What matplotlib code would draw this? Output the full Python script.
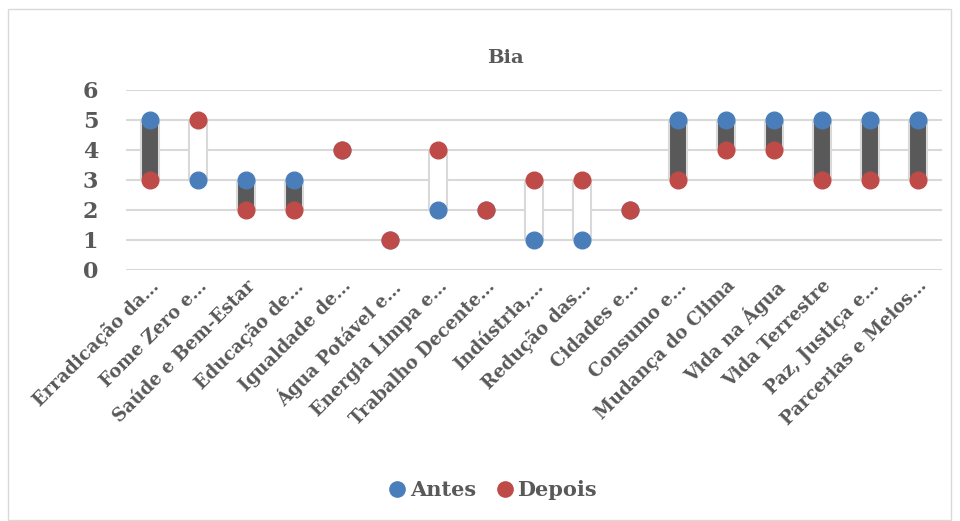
import matplotlib.pyplot as plt
import numpy as np
from matplotlib.lines import Line2D
from matplotlib.patches import Rectangle

# ODS categories and scores
categorias = ['Erradicação da…', 'Fome Zero e…', 'Saúde e Bem-Estar', 'Educação de…',
              'Igualdade de…', 'Água Potável e…', 'Energia Limpa e…', 'Trabalho Decente…',
              'Indústria,…', 'Redução das…', 'Cidades e…', 'Consumo e…',
              'Mudança do Clima', 'Vida na Água', 'Vida Terrestre', 'Paz, Justiça e…',
              'Parcerias e Meios…']
antes = [5, 3, 3, 3, 4, 1, 2, 2, 1, 1, 2, 5, 5, 5, 5, 5, 5]
depois = [3, 5, 2, 2, 4, 1, 4, 2, 3, 3, 2, 3, 4, 4, 3, 3, 3]

txt = '#595959'
grid = '#d9d9d9'
blue = '#4a7ebb'
red = '#be4b48'
plt.rcParams['font.family'] = 'DejaVu Serif'
plt.rcParams['font.weight'] = 'bold'

fig = plt.figure(figsize=(9.6, 5.21), dpi=100)
ax = fig.add_axes([126/960, 1-270/521, (942-126)/960, 180/521])

x = np.arange(len(categorias))
a = np.array(antes)
d = np.array(depois)
low = np.minimum(a, d)
h = np.abs(a - d)
for xi, lo, hi, ai, di in zip(x, low, h, a, d):
    if hi == 0:
        continue
    # down bar (Antes > Depois) dark, up bar white
    fc = '#595959' if ai > di else 'white'
    ax.bar(xi, hi, bottom=lo, width=0.38, color=fc, edgecolor=grid, linewidth=1.5, zorder=2)

ax.plot(x, a, 'o', color=blue, markersize=12, zorder=3, linestyle='none')
ax.plot(x, d, 'o', color=red, markersize=12, zorder=4, linestyle='none')

ax.set_xlim(-0.5, len(categorias) - 0.5)
ax.set_ylim(0, 6)
ax.set_yticks(range(7))
ax.yaxis.grid(True, color=grid, linewidth=1.5, zorder=0)
ax.set_axisbelow(True)
for s in ax.spines.values():
    s.set_visible(False)
ax.tick_params(axis='both', length=0, colors=txt)
ax.tick_params(axis='y', labelsize=16, pad=20)
ax.set_xticks(x)
ax.set_xticklabels(categorias, rotation=45, ha='right', rotation_mode='anchor',
                   fontsize=13, color=txt)
ax.tick_params(axis='x', pad=5)
for lbl in ax.get_yticklabels():
    lbl.set_color(txt)

fig.text(505/960, 1-58/521, 'Bia', ha='center', va='center', fontsize=14, color=txt, fontweight='bold')

handles = [Line2D([], [], marker='o', color=blue, linestyle='none', markersize=11),
           Line2D([], [], marker='o', color=red, linestyle='none', markersize=11)]
fig.legend(handles, ['Antes', 'Depois'], loc='center', bbox_to_anchor=(493/960, 1-490/521),
           ncol=2, frameon=False, fontsize=15, labelcolor=txt, handlelength=0.8,
           handletextpad=0.2, columnspacing=1.0)

fig.patches.append(Rectangle((8/960, 1/521), 943/960, 511/521, transform=fig.transFigure,
                             fill=False, edgecolor='#d9d9d9', linewidth=1))

fig.savefig('out.png', dpi=100)
